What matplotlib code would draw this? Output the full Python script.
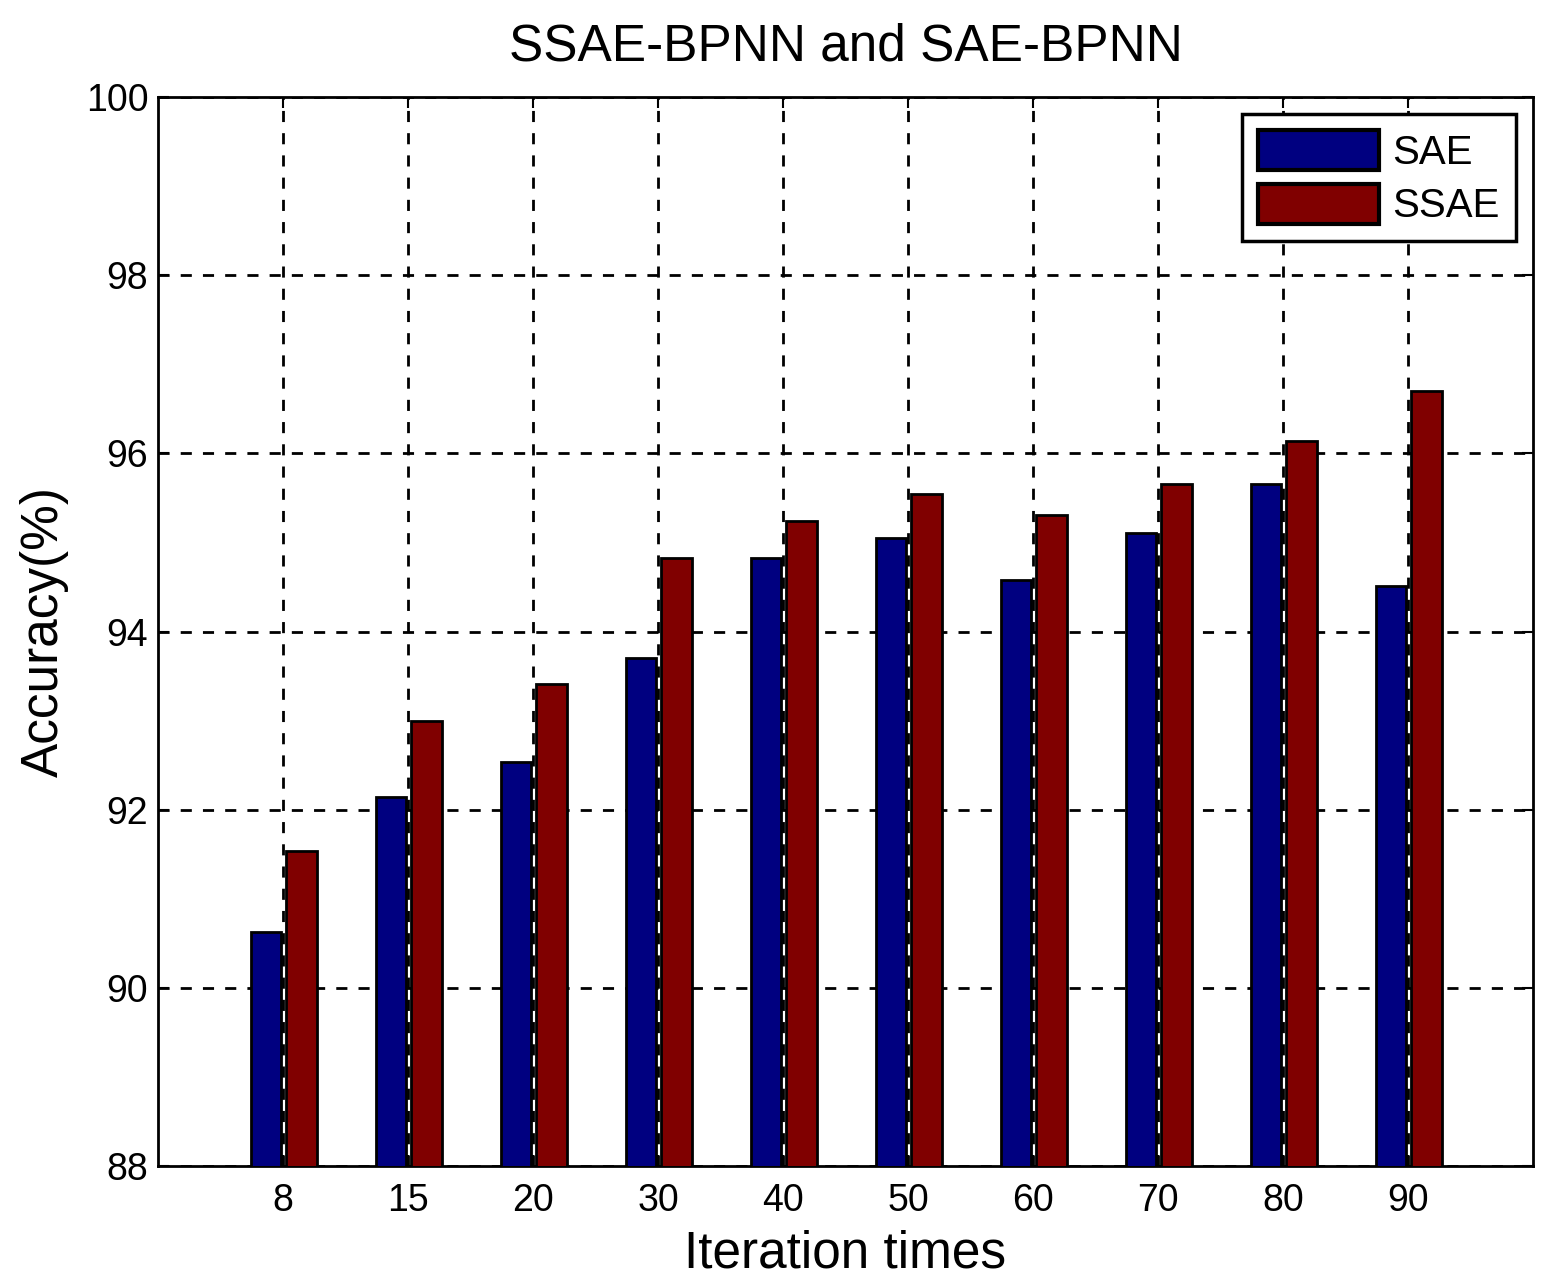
import matplotlib
matplotlib.use("Agg")
import matplotlib.pyplot as plt
import numpy as np

categories = ["8", "15", "20", "30", "40", "50", "60", "70", "80", "90"]
sae = [90.63, 92.14, 92.54, 93.70, 94.82, 95.05, 94.58, 95.11, 95.66, 94.51]
ssae = [91.54, 93.00, 93.41, 94.82, 95.24, 95.54, 95.31, 95.66, 96.14, 96.70]
yticks = [88, 90, 92, 94, 96, 98, 100]

plt.rcParams['font.family'] = ['Liberation Sans', 'DejaVu Sans']

fig = plt.figure(figsize=(15.51, 12.88), dpi=100)
ax = fig.add_axes([0.1019, 0.0947, 0.8865, 0.83])

x = np.arange(1, len(categories) + 1)
w = 0.245
ax.bar(x - 0.135, sae, width=w, color='#000080', edgecolor='black', linewidth=2, label='SAE', zorder=3)
ax.bar(x + 0.15, ssae, width=w, color='#800000', edgecolor='black', linewidth=2, label='SSAE', zorder=3)

ax.set_xlim(0, 11)
ax.set_ylim(88, 100)
ax.set_xticks(x)
ax.set_xticklabels(categories)
ax.set_yticks(yticks)
ax.tick_params(axis='both', labelsize=27, direction='in', length=8, width=1.5)
ax.tick_params(axis='x', pad=12)
ax.tick_params(axis='y', pad=7)
ax.tick_params(top=True, right=True)
ax.grid(True, linestyle=(0, (4, 4)), color='black', linewidth=2, zorder=1)
ax.set_axisbelow(True)
for s in ax.spines.values():
    s.set_linewidth(2)

ax.set_title('SSAE-BPNN and SAE-BPNN', fontsize=37, pad=26)
ax.set_xlabel('Iteration times', fontsize=37, labelpad=8)
ax.set_ylabel('Accuracy(%)', fontsize=37, labelpad=12)

leg = ax.legend(loc='upper right', fontsize=29, frameon=True, fancybox=False,
                edgecolor='black', framealpha=1.0, handlelength=3.0, handleheight=1.15,
                borderaxespad=0.42, labelspacing=0.3, handletextpad=0.35,
                borderpad=0.4)
leg.get_frame().set_linewidth(2.5)
for p in leg.get_patches():
    p.set_linewidth(3)

fig.savefig('out.png', dpi=100)
